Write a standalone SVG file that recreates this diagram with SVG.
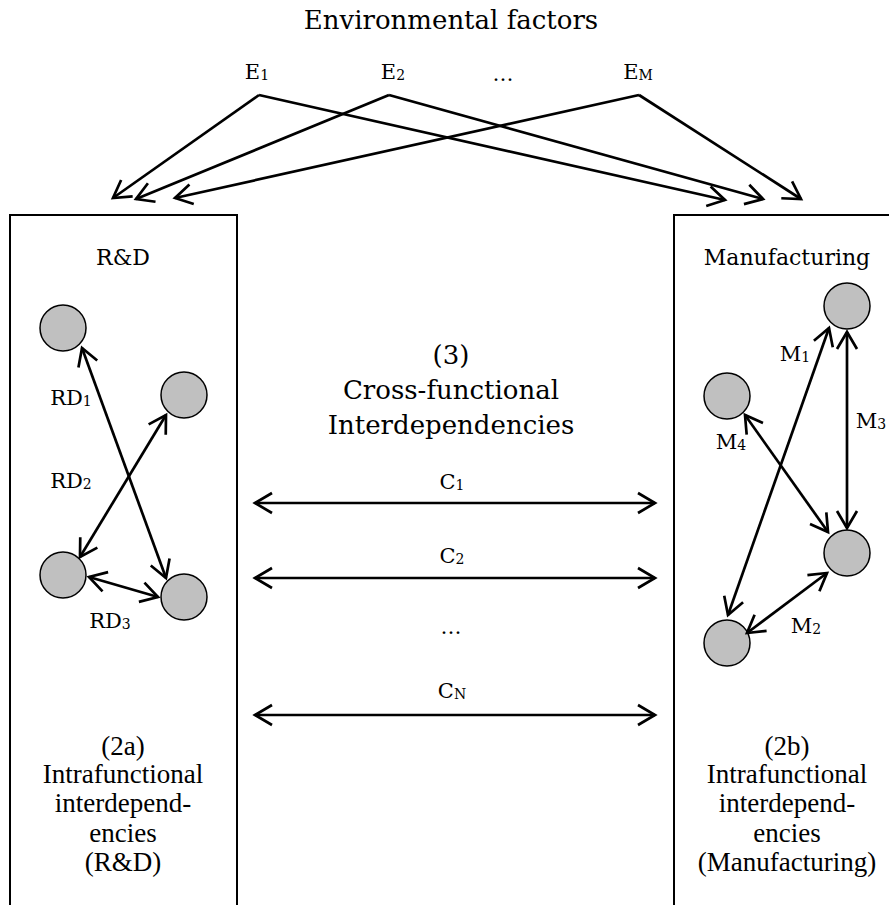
<svg xmlns="http://www.w3.org/2000/svg" width="889" height="905" viewBox="0 0 889 905">
<style>
  .t { font-family: "DejaVu Serif", "Liberation Serif", serif; fill: #000; text-anchor: middle; }
  .big { font-size: 26px; }
  .lab { font-size: 21px; }
  .sub { font-size: 14px; }
  .bot { font-family: "Liberation Serif", "DejaVu Serif", serif; font-size: 27px; fill: #000; text-anchor: middle; }
  .box { fill: none; stroke: #000; stroke-width: 2; }
  .node { fill: #c0c0c0; stroke: #000; stroke-width: 1.5; }
  .ar { fill: none; stroke: #000; stroke-width: 2.7; marker-end: url(#ah); }
  .ar2 { fill: none; stroke: #000; stroke-width: 2.7; marker-start: url(#ah); marker-end: url(#ah); }
</style>
<defs>
  <marker id="ah" markerUnits="userSpaceOnUse" markerWidth="30" markerHeight="30" viewBox="-25 -15 30 30" refX="0" refY="0" orient="auto-start-reverse" overflow="visible">
    <path d="M-17,-10 L0,0 L-17,10" fill="none" stroke="#000" stroke-width="2.7" stroke-linejoin="miter"/>
  </marker>
</defs>

<rect width="889" height="905" fill="#fff"/>

<g id="title">
  <text class="t big" x="451" y="29">Environmental factors</text>
</g>
<g id="E1"><text class="t lab" x="257" y="79">E<tspan class="sub" dy="1">1</tspan></text></g>
<g id="E2"><text class="t lab" x="393" y="79">E<tspan class="sub" dy="1">2</tspan></text></g>
<g id="Edots"><text class="t lab" x="503" y="81">…</text></g>
<g id="EM"><text class="t lab" x="638" y="79">E<tspan class="sub" dy="1">M</tspan></text></g>

<g id="rd-box">
  <rect class="box" x="10" y="215" width="227" height="720"/>
  <text class="t" style="font-size:22px" x="123" y="265">R&amp;D</text>
  <text class="bot" x="123" y="755">(2a)</text>
  <text class="bot" x="123" y="783">Intrafunctional</text>
  <text class="bot" x="123" y="812">interdepend-</text>
  <text class="bot" x="123" y="842">encies</text>
  <text class="bot" x="123" y="871">(R&amp;D)</text>
</g>
<g id="mf-box">
  <rect class="box" x="674" y="215" width="300" height="720"/>
  <text class="t" style="font-size:22px" x="787" y="265">Manufacturing</text>
  <text class="bot" x="787" y="755">(2b)</text>
  <text class="bot" x="787" y="783">Intrafunctional</text>
  <text class="bot" x="787" y="812">interdepend-</text>
  <text class="bot" x="787" y="842">encies</text>
  <text class="bot" x="787" y="871">(Manufacturing)</text>
</g>

<g id="cross-title">
  <text class="t big" x="451" y="364">(3)</text>
  <text class="t big" x="451" y="399">Cross-functional</text>
  <text class="t big" x="451" y="434">Interdependencies</text>
</g>

<g id="rd-n1"><circle class="node" cx="63" cy="328" r="23"/></g>
<g id="rd-n2"><circle class="node" cx="184" cy="395" r="23"/></g>
<g id="rd-n3"><circle class="node" cx="63" cy="575" r="23"/></g>
<g id="rd-n4"><circle class="node" cx="184" cy="597" r="23"/></g>
<g id="mf-n1"><circle class="node" cx="847" cy="306" r="23"/></g>
<g id="mf-n2"><circle class="node" cx="727" cy="396" r="23"/></g>
<g id="mf-n3"><circle class="node" cx="847" cy="553" r="23"/></g>
<g id="mf-n4"><circle class="node" cx="727" cy="643" r="23"/></g>

<g id="connectors">
  <line class="ar" x1="259" y1="95" x2="113" y2="198"/>
  <line class="ar" x1="259" y1="95" x2="725" y2="200"/>
  <line class="ar" x1="389" y1="95" x2="136" y2="199"/>
  <line class="ar" x1="389" y1="95" x2="763" y2="199"/>
  <line class="ar" x1="639" y1="95" x2="175" y2="198"/>
  <line class="ar" x1="639" y1="95" x2="801" y2="199"/>

  <line class="ar2" x1="82" y1="348" x2="166" y2="578"/>
  <line class="ar2" x1="166" y1="415" x2="80" y2="557"/>
  <line class="ar2" x1="89" y1="577" x2="158" y2="597"/>

  <line class="ar2" x1="829" y1="328" x2="728" y2="615"/>
  <line class="ar2" x1="847" y1="332" x2="847" y2="528"/>
  <line class="ar2" x1="745" y1="415" x2="828" y2="532"/>
  <line class="ar2" x1="747" y1="633" x2="827" y2="573"/>

  <line class="ar2" x1="255" y1="503" x2="655" y2="503"/>
  <line class="ar2" x1="255" y1="578" x2="655" y2="578"/>
  <line class="ar2" x1="255" y1="715" x2="655" y2="715"/>
</g>

<g id="labels">
  <text class="t lab" x="71" y="405">RD<tspan class="sub" dy="1">1</tspan></text>
  <text class="t lab" x="71" y="488">RD<tspan class="sub" dy="1">2</tspan></text>
  <text class="t lab" x="110" y="628">RD<tspan class="sub" dy="1">3</tspan></text>
  <text class="t lab" x="795" y="361">M<tspan class="sub" dy="1">1</tspan></text>
  <text class="t lab" x="871" y="428">M<tspan class="sub" dy="1">3</tspan></text>
  <text class="t lab" x="731" y="449">M<tspan class="sub" dy="1">4</tspan></text>
  <text class="t lab" x="806" y="633">M<tspan class="sub" dy="1">2</tspan></text>
  <text class="t lab" x="452" y="489">C<tspan class="sub" dy="1">1</tspan></text>
  <text class="t lab" x="452" y="563">C<tspan class="sub" dy="1">2</tspan></text>
  <text class="t lab" x="451" y="634">…</text>
  <text class="t lab" x="452" y="698">C<tspan class="sub" dy="1">N</tspan></text>
</g>
</svg>
